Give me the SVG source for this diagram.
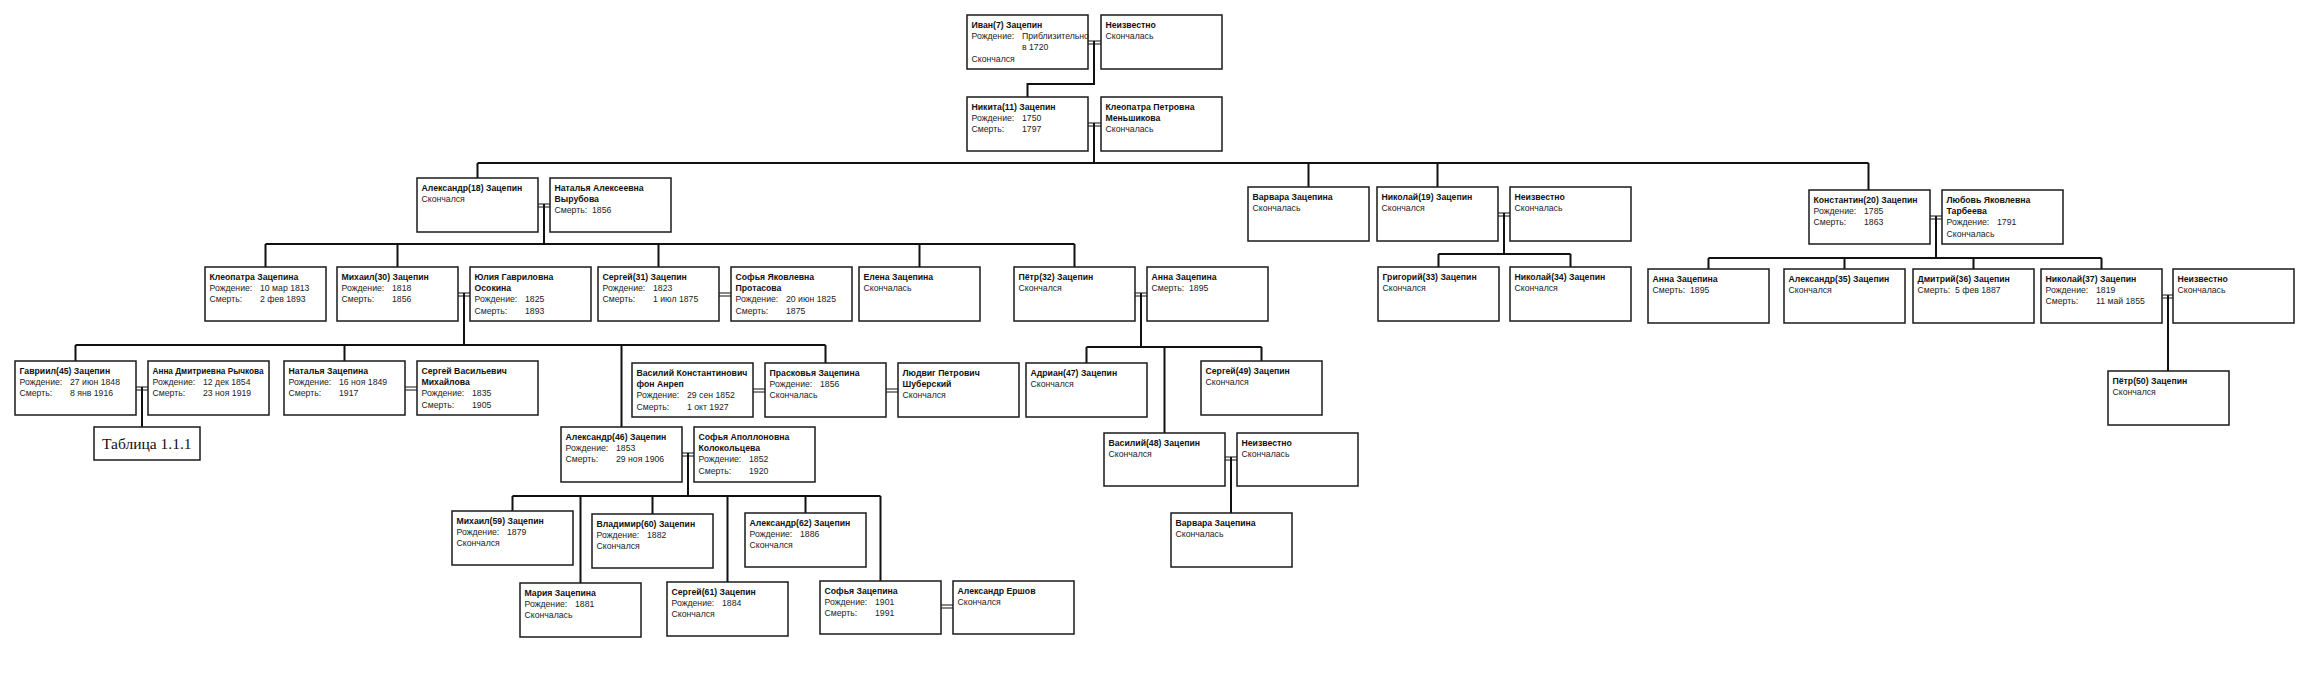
<svg xmlns="http://www.w3.org/2000/svg" width="2314" height="682" viewBox="0 0 2314 682">
<style>
.bg{fill:#fff}
.box{fill:#fff;stroke:#1a1a1a;stroke-width:1.5}
.n{font-family:"Liberation Sans",Arial,sans-serif;font-size:8.7px;font-weight:bold;fill:#111}
.t{font-family:"Liberation Sans",Arial,sans-serif;font-size:8.7px;fill:#222}
.c{fill:none;stroke:#111;stroke-width:2}
.m{fill:none;stroke:#111;stroke-width:1.2}
.tab{font-family:"Liberation Serif","Times New Roman",serif;font-size:15.5px;fill:#111}
</style>
<rect class="bg" width="2314" height="682"/>
<g id="connectors">
<path class="m" d="M1088,41H1101M1088,44H1101M1088,123H1101M1088,126H1101M538,204H550M538,207H550M458,293H470M458,296H470M719,293H731M719,296H731M1135,293H1147M1135,296H1147M1498,213H1510M1498,216H1510M1930,216H1942M1930,219H1942M2162,295H2173M2162,298H2173M136,387H148M136,390H148M405,387H417M405,390H417M753,389H765M753,392H765M886,389H898M886,392H898M682,453H694M682,456H694M941,605H953M941,608H953M1225,457H1237M1225,460H1237"/>
<path class="c" d="M1094,41V84H1027.5V97M1094,123V163M477.5,163H1868.5M477.5,163V178M1308.5,163V187M1437.5,163V187M1868.5,163V190M544,204V244M265.5,244H1074.5M265.5,244V267M397.5,244V267M658.5,244V267M919.5,244V267M1074.5,244V267M464,293V345M1141,293V347M1504,213V254M1438.5,254H1570.5M1438.5,254V267M1570.5,254V267M1936,216V258M1708.5,258H2101.5M1708.5,258V269M1844.5,258V269M1973.5,258V269M2101.5,258V269M2168,295V371M75.5,345H825.5M75.5,345V361M344.5,345V361M621.5,345V427M825.5,345V363M142,387V427M1086.5,347H1261.5M1086.5,347V363M1164.5,347V433M1261.5,347V361M688,453V496M512.5,496H880.5M512.5,496V511M580.5,496V583M652.5,496V514M727.5,496V582M805.5,496V513M880.5,496V581M1231,457V513"/>
</g>

<g id="ivan7" transform="translate(967,15)"><rect class="box" width="121" height="54"/><text class="n" x="4.5" y="13">Иван(7) Зацепин</text><text class="t" x="4.5" y="24">Рождение:</text><text class="t" x="55" y="24">Приблизительно</text><text class="t" x="55" y="35">в 1720</text><text class="t" x="4.5" y="46.5">Скончался</text></g>
<g id="unknown1" transform="translate(1101,15)"><rect class="box" width="121" height="54"/><text class="n" x="4.5" y="13">Неизвестно</text><text class="t" x="4.5" y="24">Скончалась</text></g>

<g id="nikita11" transform="translate(967,97)"><rect class="box" width="121" height="54"/><text class="n" x="4.5" y="13">Никита(11) Зацепин</text><text class="t" x="4.5" y="24">Рождение:</text><text class="t" x="55" y="24">1750</text><text class="t" x="4.5" y="35">Смерть:</text><text class="t" x="55" y="35">1797</text></g>
<g id="kleopatra_menshikova" transform="translate(1101,97)"><rect class="box" width="121" height="54"/><text class="n" x="4.5" y="13">Клеопатра Петровна</text><text class="n" x="4.5" y="24">Меньшикова</text><text class="t" x="4.5" y="35">Скончалась</text></g>

<g id="aleksandr18" transform="translate(417,178)"><rect class="box" width="121" height="54"/><text class="n" x="4.5" y="13">Александр(18) Зацепин</text><text class="t" x="4.5" y="24">Скончался</text></g>
<g id="natalia_vyrubova" transform="translate(550,178)"><rect class="box" width="121" height="54"/><text class="n" x="4.5" y="13">Наталья Алексеевна</text><text class="n" x="4.5" y="24">Вырубова</text><text class="t" x="4.5" y="35">Смерть:</text><text class="t" x="42" y="35">1856</text></g>
<g id="varvara1" transform="translate(1248,187)"><rect class="box" width="121" height="54"/><text class="n" x="4.5" y="13">Варвара Зацепина</text><text class="t" x="4.5" y="24">Скончалась</text></g>
<g id="nikolai19" transform="translate(1377,187)"><rect class="box" width="121" height="54"/><text class="n" x="4.5" y="13">Николай(19) Зацепин</text><text class="t" x="4.5" y="24">Скончался</text></g>
<g id="unknown2" transform="translate(1510,187)"><rect class="box" width="121" height="54"/><text class="n" x="4.5" y="13">Неизвестно</text><text class="t" x="4.5" y="24">Скончалась</text></g>
<g id="konstantin20" transform="translate(1809,190)"><rect class="box" width="121" height="54"/><text class="n" x="4.5" y="13">Константин(20) Зацепин</text><text class="t" x="4.5" y="24">Рождение:</text><text class="t" x="55" y="24">1785</text><text class="t" x="4.5" y="35">Смерть:</text><text class="t" x="55" y="35">1863</text></g>
<g id="lyubov_tarbeeva" transform="translate(1942,190)"><rect class="box" width="121" height="54"/><text class="n" x="4.5" y="13">Любовь Яковлевна</text><text class="n" x="4.5" y="24">Тарбеева</text><text class="t" x="4.5" y="35">Рождение:</text><text class="t" x="55" y="35">1791</text><text class="t" x="4.5" y="46.5">Скончалась</text></g>

<g id="kleopatra_z" transform="translate(205,267)"><rect class="box" width="121" height="54"/><text class="n" x="4.5" y="13">Клеопатра Зацепина</text><text class="t" x="4.5" y="24">Рождение:</text><text class="t" x="55" y="24">10 мар 1813</text><text class="t" x="4.5" y="35">Смерть:</text><text class="t" x="55" y="35">2 фев 1893</text></g>
<g id="mikhail30" transform="translate(337,267)"><rect class="box" width="121" height="54"/><text class="n" x="4.5" y="13">Михаил(30) Зацепин</text><text class="t" x="4.5" y="24">Рождение:</text><text class="t" x="55" y="24">1818</text><text class="t" x="4.5" y="35">Смерть:</text><text class="t" x="55" y="35">1856</text></g>
<g id="yulia_osokina" transform="translate(470,267)"><rect class="box" width="121" height="54"/><text class="n" x="4.5" y="13">Юлия Гавриловна</text><text class="n" x="4.5" y="24">Осокина</text><text class="t" x="4.5" y="35">Рождение:</text><text class="t" x="55" y="35">1825</text><text class="t" x="4.5" y="46.5">Смерть:</text><text class="t" x="55" y="46.5">1893</text></g>
<g id="sergei31" transform="translate(598,267)"><rect class="box" width="121" height="54"/><text class="n" x="4.5" y="13">Сергей(31) Зацепин</text><text class="t" x="4.5" y="24">Рождение:</text><text class="t" x="55" y="24">1823</text><text class="t" x="4.5" y="35">Смерть:</text><text class="t" x="55" y="35">1 июл 1875</text></g>
<g id="sofia_protasova" transform="translate(731,267)"><rect class="box" width="121" height="54"/><text class="n" x="4.5" y="13">Софья Яковлевна</text><text class="n" x="4.5" y="24">Протасова</text><text class="t" x="4.5" y="35">Рождение:</text><text class="t" x="55" y="35">20 июн 1825</text><text class="t" x="4.5" y="46.5">Смерть:</text><text class="t" x="55" y="46.5">1875</text></g>
<g id="elena" transform="translate(859,267)"><rect class="box" width="121" height="54"/><text class="n" x="4.5" y="13">Елена Зацепина</text><text class="t" x="4.5" y="24">Скончалась</text></g>
<g id="petr32" transform="translate(1014,267)"><rect class="box" width="121" height="54"/><text class="n" x="4.5" y="13">Пётр(32) Зацепин</text><text class="t" x="4.5" y="24">Скончался</text></g>
<g id="anna_wife_petr" transform="translate(1147,267)"><rect class="box" width="121" height="54"/><text class="n" x="4.5" y="13">Анна Зацепина</text><text class="t" x="4.5" y="24">Смерть:</text><text class="t" x="42" y="24">1895</text></g>
<g id="grigorii33" transform="translate(1378,267)"><rect class="box" width="121" height="54"/><text class="n" x="4.5" y="13">Григорий(33) Зацепин</text><text class="t" x="4.5" y="24">Скончался</text></g>
<g id="nikolai34" transform="translate(1510,267)"><rect class="box" width="121" height="54"/><text class="n" x="4.5" y="13">Николай(34) Зацепин</text><text class="t" x="4.5" y="24">Скончался</text></g>
<g id="anna_k" transform="translate(1648,269)"><rect class="box" width="121" height="54"/><text class="n" x="4.5" y="13">Анна Зацепина</text><text class="t" x="4.5" y="24">Смерть:</text><text class="t" x="42" y="24">1895</text></g>
<g id="aleksandr35" transform="translate(1784,269)"><rect class="box" width="121" height="54"/><text class="n" x="4.5" y="13">Александр(35) Зацепин</text><text class="t" x="4.5" y="24">Скончался</text></g>
<g id="dmitrii36" transform="translate(1913,269)"><rect class="box" width="121" height="54"/><text class="n" x="4.5" y="13">Дмитрий(36) Зацепин</text><text class="t" x="4.5" y="24">Смерть:</text><text class="t" x="42" y="24">5 фев 1887</text></g>
<g id="nikolai37" transform="translate(2041,269)"><rect class="box" width="121" height="54"/><text class="n" x="4.5" y="13">Николай(37) Зацепин</text><text class="t" x="4.5" y="24">Рождение:</text><text class="t" x="55" y="24">1819</text><text class="t" x="4.5" y="35">Смерть:</text><text class="t" x="55" y="35">11 май 1855</text></g>
<g id="unknown3" transform="translate(2173,269)"><rect class="box" width="121" height="54"/><text class="n" x="4.5" y="13">Неизвестно</text><text class="t" x="4.5" y="24">Скончалась</text></g>

<g id="gavriil45" transform="translate(15,361)"><rect class="box" width="121" height="54"/><text class="n" x="4.5" y="13">Гавриил(45) Зацепин</text><text class="t" x="4.5" y="24">Рождение:</text><text class="t" x="55" y="24">27 июн 1848</text><text class="t" x="4.5" y="35">Смерть:</text><text class="t" x="55" y="35">8 янв 1916</text></g>
<g id="anna_rychkova" transform="translate(148,361)"><rect class="box" width="121" height="54"/><text class="n" x="4.5" y="13" textLength="111" lengthAdjust="spacingAndGlyphs">Анна Дмитриевна Рычкова</text><text class="t" x="4.5" y="24">Рождение:</text><text class="t" x="55" y="24">12 дек 1854</text><text class="t" x="4.5" y="35">Смерть:</text><text class="t" x="55" y="35">23 ноя 1919</text></g>
<g id="natalia_z" transform="translate(284,361)"><rect class="box" width="121" height="54"/><text class="n" x="4.5" y="13">Наталья Зацепина</text><text class="t" x="4.5" y="24">Рождение:</text><text class="t" x="55" y="24">16 ноя 1849</text><text class="t" x="4.5" y="35">Смерть:</text><text class="t" x="55" y="35">1917</text></g>
<g id="sergei_mikhailov" transform="translate(417,361)"><rect class="box" width="121" height="54"/><text class="n" x="4.5" y="13">Сергей Васильевич</text><text class="n" x="4.5" y="24">Михайлова</text><text class="t" x="4.5" y="35">Рождение:</text><text class="t" x="55" y="35">1835</text><text class="t" x="4.5" y="46.5">Смерть:</text><text class="t" x="55" y="46.5">1905</text></g>
<g id="tablica" transform="translate(94,427)"><rect class="box" width="106" height="33"/><text class="tab" x="8" y="21.5">Таблица 1.1.1</text></g>
<g id="vasilii_anrep" transform="translate(632,363)"><rect class="box" width="121" height="54"/><text class="n" x="4.5" y="13">Василий Константинович</text><text class="n" x="4.5" y="24">фон Анреп</text><text class="t" x="4.5" y="35">Рождение:</text><text class="t" x="55" y="35">29 сен 1852</text><text class="t" x="4.5" y="46.5">Смерть:</text><text class="t" x="55" y="46.5">1 окт 1927</text></g>
<g id="praskovia" transform="translate(765,363)"><rect class="box" width="121" height="54"/><text class="n" x="4.5" y="13">Прасковья Зацепина</text><text class="t" x="4.5" y="24">Рождение:</text><text class="t" x="55" y="24">1856</text><text class="t" x="4.5" y="35">Скончалась</text></g>
<g id="lyudvig_shubersky" transform="translate(898,363)"><rect class="box" width="121" height="54"/><text class="n" x="4.5" y="13">Людвиг Петрович</text><text class="n" x="4.5" y="24">Шуберский</text><text class="t" x="4.5" y="35">Скончался</text></g>
<g id="adrian47" transform="translate(1026,363)"><rect class="box" width="121" height="54"/><text class="n" x="4.5" y="13">Адриан(47) Зацепин</text><text class="t" x="4.5" y="24">Скончался</text></g>
<g id="sergei49" transform="translate(1201,361)"><rect class="box" width="121" height="54"/><text class="n" x="4.5" y="13">Сергей(49) Зацепин</text><text class="t" x="4.5" y="24">Скончался</text></g>
<g id="petr50" transform="translate(2108,371)"><rect class="box" width="121" height="54"/><text class="n" x="4.5" y="13">Пётр(50) Зацепин</text><text class="t" x="4.5" y="24">Скончался</text></g>

<g id="aleksandr46" transform="translate(561,427)"><rect class="box" width="121" height="55"/><text class="n" x="4.5" y="13">Александр(46) Зацепин</text><text class="t" x="4.5" y="24">Рождение:</text><text class="t" x="55" y="24">1853</text><text class="t" x="4.5" y="35">Смерть:</text><text class="t" x="55" y="35">29 ноя 1906</text></g>
<g id="sofia_kolokoltseva" transform="translate(694,427)"><rect class="box" width="121" height="55"/><text class="n" x="4.5" y="13">Софья Аполлоновна</text><text class="n" x="4.5" y="24">Колокольцева</text><text class="t" x="4.5" y="35">Рождение:</text><text class="t" x="55" y="35">1852</text><text class="t" x="4.5" y="46.5">Смерть:</text><text class="t" x="55" y="46.5">1920</text></g>
<g id="vasilii48" transform="translate(1104,433)"><rect class="box" width="121" height="53"/><text class="n" x="4.5" y="13">Василий(48) Зацепин</text><text class="t" x="4.5" y="24">Скончался</text></g>
<g id="unknown4" transform="translate(1237,433)"><rect class="box" width="121" height="53"/><text class="n" x="4.5" y="13">Неизвестно</text><text class="t" x="4.5" y="24">Скончалась</text></g>
<g id="varvara2" transform="translate(1171,513)"><rect class="box" width="121" height="54"/><text class="n" x="4.5" y="13">Варвара Зацепина</text><text class="t" x="4.5" y="24">Скончалась</text></g>

<g id="mikhail59" transform="translate(452,511)"><rect class="box" width="121" height="54"/><text class="n" x="4.5" y="13">Михаил(59) Зацепин</text><text class="t" x="4.5" y="24">Рождение:</text><text class="t" x="55" y="24">1879</text><text class="t" x="4.5" y="35">Скончался</text></g>
<g id="vladimir60" transform="translate(592,514)"><rect class="box" width="121" height="54"/><text class="n" x="4.5" y="13">Владимир(60) Зацепин</text><text class="t" x="4.5" y="24">Рождение:</text><text class="t" x="55" y="24">1882</text><text class="t" x="4.5" y="35">Скончался</text></g>
<g id="aleksandr62" transform="translate(745,513)"><rect class="box" width="121" height="54"/><text class="n" x="4.5" y="13">Александр(62) Зацепин</text><text class="t" x="4.5" y="24">Рождение:</text><text class="t" x="55" y="24">1886</text><text class="t" x="4.5" y="35">Скончался</text></g>
<g id="maria" transform="translate(520,583)"><rect class="box" width="121" height="54"/><text class="n" x="4.5" y="13">Мария Зацепина</text><text class="t" x="4.5" y="24">Рождение:</text><text class="t" x="55" y="24">1881</text><text class="t" x="4.5" y="35">Скончалась</text></g>
<g id="sergei61" transform="translate(667,582)"><rect class="box" width="121" height="54"/><text class="n" x="4.5" y="13">Сергей(61) Зацепин</text><text class="t" x="4.5" y="24">Рождение:</text><text class="t" x="55" y="24">1884</text><text class="t" x="4.5" y="35">Скончался</text></g>
<g id="sofia_z" transform="translate(820,581)"><rect class="box" width="121" height="53"/><text class="n" x="4.5" y="13">Софья Зацепина</text><text class="t" x="4.5" y="24">Рождение:</text><text class="t" x="55" y="24">1901</text><text class="t" x="4.5" y="35">Смерть:</text><text class="t" x="55" y="35">1991</text></g>
<g id="aleksandr_ershov" transform="translate(953,581)"><rect class="box" width="121" height="53"/><text class="n" x="4.5" y="13">Александр Ершов</text><text class="t" x="4.5" y="24">Скончался</text></g>
</svg>
